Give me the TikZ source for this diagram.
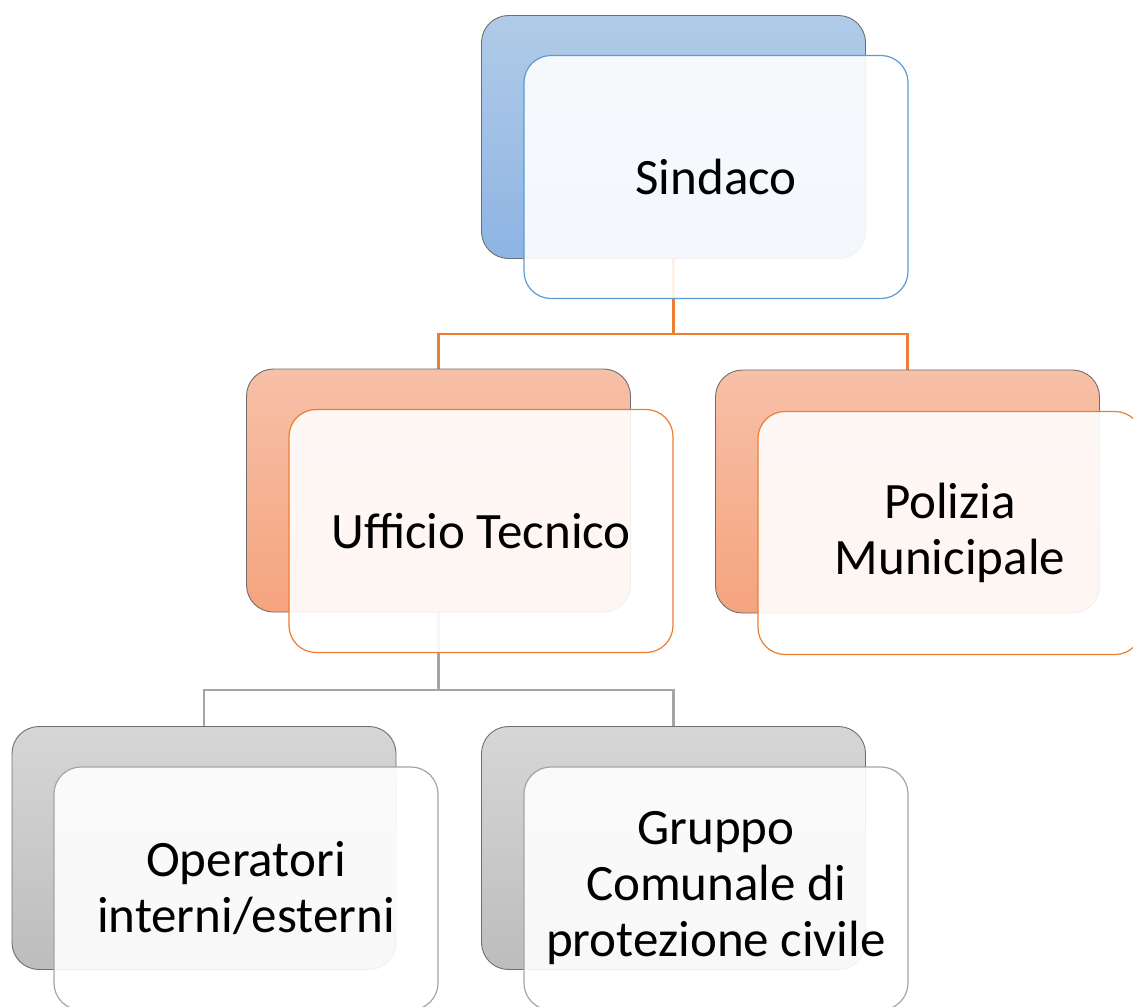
\documentclass[tikz,border=0pt]{standalone}
\usepackage{fontspec}
\setmainfont{Carlito}
\pgfdeclarelayer{bg}
\pgfsetlayers{bg,main}
\definecolor{bluetop}{HTML}{B1CBE8}
\definecolor{bluebot}{HTML}{8EB4E3}
\definecolor{blueline}{HTML}{5B9BD5}
\definecolor{orangetop}{HTML}{F7C0A8}
\definecolor{orangebot}{HTML}{F5A47E}
\definecolor{orangeline}{HTML}{ED7D31}
\definecolor{graytop}{HTML}{D6D6D6}
\definecolor{graybot}{HTML}{BDBDBD}
\definecolor{grayline}{HTML}{A5A5A5}
\definecolor{backedge}{HTML}{6E6E6E}
\tikzset{
  backbox/.style={rectangle, rounded corners=27pt, minimum width=384pt, minimum height=243pt,
    draw=backedge, line width=0.9pt, inner sep=0pt},
  bluebox/.style={backbox, top color=bluetop, bottom color=bluebot},
  orangebox/.style={backbox, top color=orangetop, bottom color=orangebot},
  graybox/.style={backbox, top color=graytop, bottom color=graybot},
  frontbox/.style={rectangle, rounded corners=27pt, minimum width=384pt, minimum height=243pt,
    fill=white, fill opacity=0.9, text opacity=1, line width=1.2pt, inner sep=0pt,
    align=center, font=\fontsize{51}{56}\selectfont},
  bluefront/.style={frontbox, draw=blueline},
  orangefront/.style={frontbox, draw=orangeline},
  grayfront/.style={frontbox, draw=grayline},
  oconn/.style={draw=orangeline, line width=2.2pt},
  gconn/.style={draw=grayline, line width=2.2pt}
}
\begin{document}
\begin{tikzpicture}[x=1pt,y=-1pt]
\useasboundingbox (0,0) rectangle (1133,1007);
\clip (0,0) rectangle (1133,1007);
% back boxes
\node[bluebox] (sb) at (673.5,137) {};
\node[orangebox] (ub) at (438.5,490.5) {};
\node[orangebox] (pb) at (907.5,491.5) {};
\node[graybox] (ob) at (204,848) {};
\node[graybox] (gb) at (673.5,848) {};
% front boxes
\node[bluefront] (sf) at (716,177) {Sindaco};
\node[orangefront] (uf) at (481,531) {Ufficio Tecnico};
\node[orangefront] (pf) at (950,533) {Polizia\\Municipale};
\node[grayfront] (of) at (246,888.5) {Operatori\\interni/esterni};
\node[grayfront] (gf) at (716,888.5) {Gruppo\\Comunale di\\protezione civile};
% connectors
\begin{pgfonlayer}{bg}
\coordinate (sj) at (sb.south |- 0,334);
\draw[oconn] (sb.south) -- (sj);
\draw[oconn] (sj) -| (ub.north);
\draw[oconn] (sj) -| (pb.north);
\coordinate (uj) at (ub.south |- 0,690);
\draw[gconn] (ub.south) -- (uj);
\draw[gconn] (uj) -| (ob.north);
\draw[gconn] (uj) -| (gb.north);
\end{pgfonlayer}
\end{tikzpicture}
\end{document}
